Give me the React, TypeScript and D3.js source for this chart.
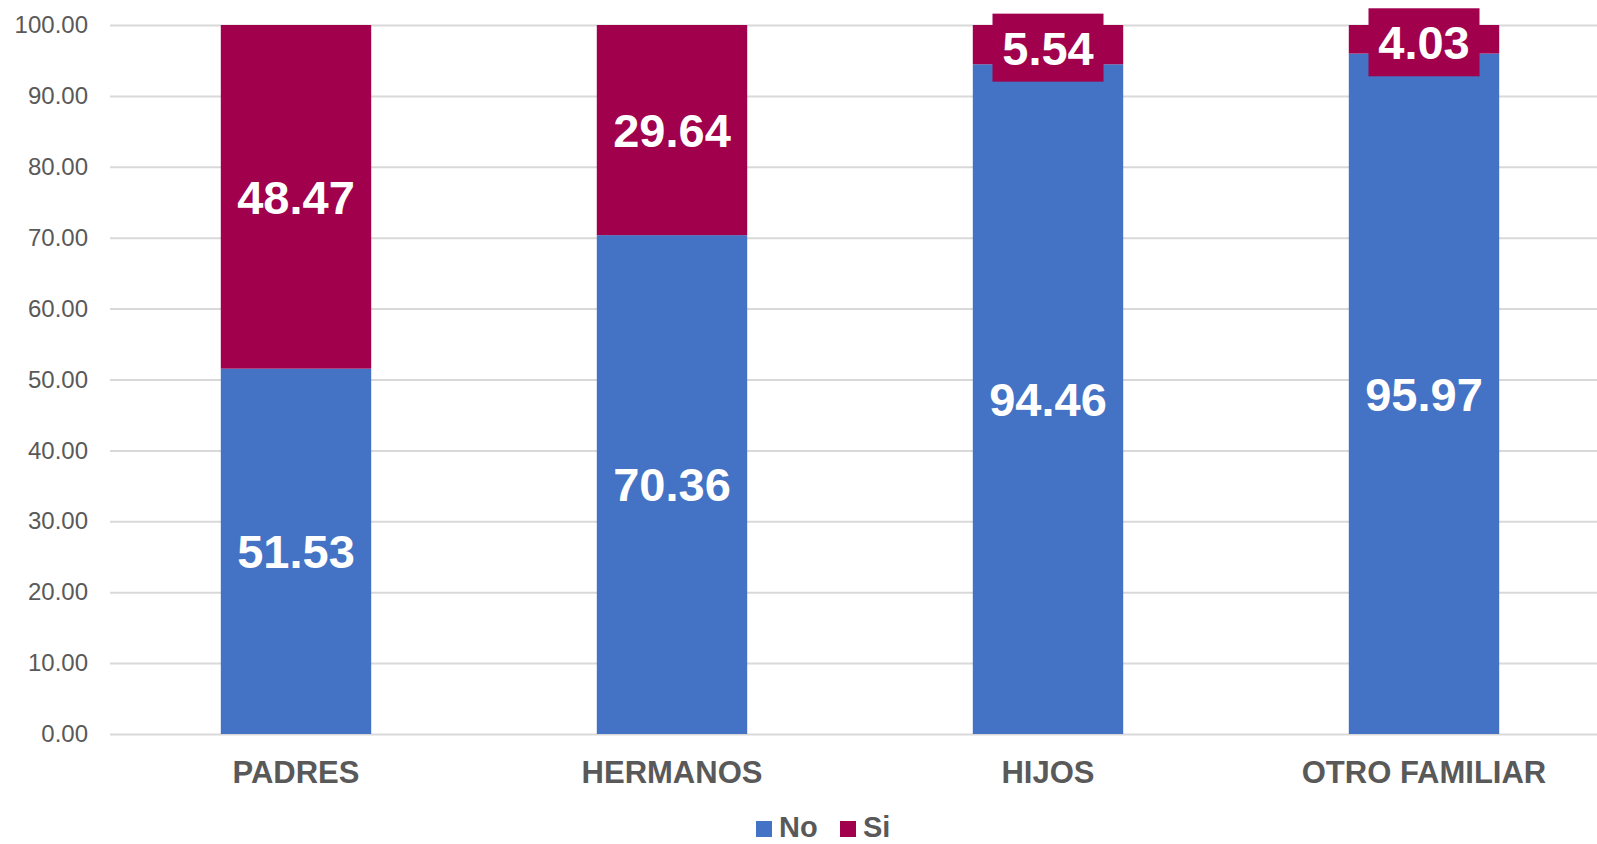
import { useRef, useEffect } from 'react';
import * as d3 from 'd3';

const categories = ['PADRES', 'HERMANOS', 'HIJOS', 'OTRO FAMILIAR'];
const noValues = [51.53, 70.36, 94.46, 95.97];
const siValues = [48.47, 29.64, 5.54, 4.03];
const yTicks = [0, 10, 20, 30, 40, 50, 60, 70, 80, 90, 100];
const seriesNames = ['No', 'Si'];

const App = () => {
    const ref = useRef<SVGSVGElement>(null);

    useEffect(() => {
        const width = 1597;
        const height = 844;
        const margin = { top: 25, right: -17, bottom: 110, left: 110 };
        const colors = ['#4472C4', '#A0004C'];
        const font = '"Liberation Sans", Arial, sans-serif';

        const svg = d3.select(ref.current);
        svg.selectAll('*').remove();
        svg.attr('width', width).attr('height', height).attr('viewBox', [0, 0, width, height]);

        // band range a touch left of the grid start, like the original
        const x = d3.scaleBand()
            .domain(categories)
            .range([margin.left - 2, width - margin.right - 2])
            .paddingInner(0.6)
            .paddingOuter(0.3);

        const y = d3.scaleLinear()
            .domain([0, 100])
            .range([height - margin.bottom, margin.top]);

        // grid lines + y labels
        const yAxis = svg.append('g')
            .attr('class', 'y-axis')
            .attr('transform', `translate(${margin.left}, 0)`)
            .call(d3.axisLeft(y).tickValues(yTicks).tickSize(-(width - margin.left)).tickPadding(22).tickFormat((d: any) => d3.format('.2f')(d)));
        yAxis.select('.domain').remove();
        yAxis.selectAll('.tick line').attr('stroke', '#D9D9D9').attr('stroke-width', 2);
        yAxis.selectAll('.tick text')
            .attr('fill', '#595959')
            .style('font-family', font)
            .style('font-size', '24px');

        // stacked data
        const rows = categories.map((c, i) => ({ cat: c, No: noValues[i], Si: siValues[i] }));
        const stacked = d3.stack<any>().keys(seriesNames)(rows);

        const layers = svg.append('g').selectAll('g')
            .data(stacked)
            .enter().append('g')
            .attr('fill', (_d: any, i: number) => colors[i]);

        layers.selectAll('rect')
            .data((d: any) => d)
            .enter().append('rect')
            .attr('x', (d: any) => x(d.data.cat))
            .attr('width', x.bandwidth())
            .attr('y', (d: any) => y(d[1]))
            .attr('height', (d: any) => y(d[0]) - y(d[1]));

        // data labels (small segments get a filled box behind the number)
        const labels = svg.append('g');
        stacked.forEach((layer: any, li: number) => {
            layer.forEach((d: any) => {
                const v = d[1] - d[0];
                const cx = (x(d.data.cat) ?? 0) + x.bandwidth() / 2;
                const cy = (y(d[0]) + y(d[1])) / 2;
                const small = v < 10;
                const ty = small ? cy + 3 : cy;
                if (small) {
                    labels.append('rect')
                        .attr('x', cx - 55.5)
                        .attr('y', ty - 34)
                        .attr('width', 111)
                        .attr('height', 68)
                        .attr('fill', colors[li]);
                }
                labels.append('text')
                    .attr('x', cx)
                    .attr('y', ty)
                    .attr('dy', '0.36em')
                    .attr('text-anchor', 'middle')
                    .attr('fill', '#ffffff')
                    .style('font-family', font)
                    .style('font-weight', 'bold')
                    .style('font-size', '47px')
                    .text(d3.format('.2f')(v));
            });
        });

        // x labels
        svg.append('g')
            .selectAll('text')
            .data(categories)
            .enter().append('text')
            .attr('x', (d: string) => (x(d) ?? 0) + x.bandwidth() / 2)
            .attr('y', 783)
            .attr('text-anchor', 'middle')
            .attr('fill', '#595959')
            .style('font-family', font)
            .style('font-weight', 'bold')
            .style('font-size', '31px')
            .text((d: string) => d);

        // legend
        const legend = svg.append('g');
        const legendX = [756, 840];
        seriesNames.forEach((name, i) => {
            legend.append('rect')
                .attr('x', legendX[i])
                .attr('y', 821)
                .attr('width', 16)
                .attr('height', 16)
                .attr('fill', colors[i]);
            legend.append('text')
                .attr('x', legendX[i] + 23)
                .attr('y', 837)
                .attr('fill', '#595959')
                .style('font-family', font)
                .style('font-weight', 'bold')
                .style('font-size', '29px')
                .text(name);
        });
    }, []);

    return (
        <div style={{ position: 'fixed', left: 0, top: 0, background: '#ffffff' }}>
            <svg ref={ref} style={{ display: 'block' }}></svg>
        </div>
    );
};

export default App;
